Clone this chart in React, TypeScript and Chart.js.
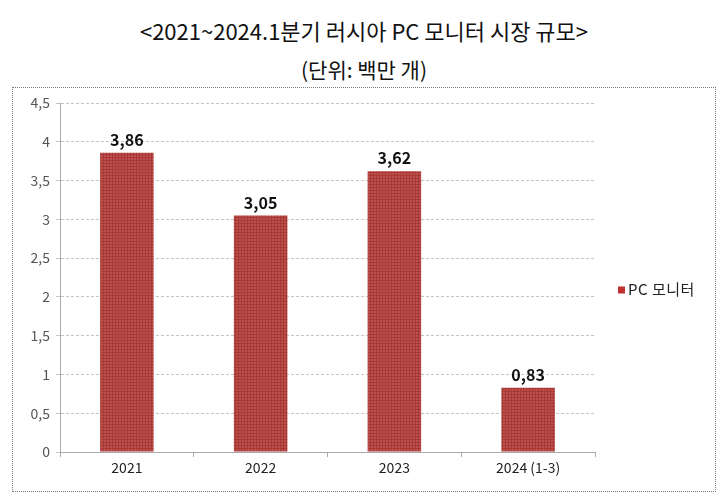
import React, { useEffect, useRef } from "react";
import { Chart, registerables } from "chart.js";

Chart.register(...registerables);

const categories = ["2021", "2022", "2023", "2024 (1-3)"];
const monitorValues = [3.86, 3.05, 3.62, 0.83];
const seriesName = "PC 모니터";
const titleText = "<2021~2024.1분기 러시아 PC 모니터 시장 규모>";
const subtitleText = "(단위: 백만 개)";
const yMin = 0;
const yMax = 4.5;
const yStep = 0.5;

const FONT = "'Noto Sans CJK KR', 'Noto Sans', sans-serif";
const fmt = (v: number) => String(v).replace(".", ",");

function makePattern(): CanvasPattern | string {
  const c = document.createElement("canvas");
  c.width = 3;
  c.height = 3;
  const ctx = c.getContext("2d");
  if (!ctx) return "#b3413e";
  ctx.fillStyle = "#bd504c";
  ctx.fillRect(0, 0, 3, 3);
  ctx.fillStyle = "#a63835";
  ctx.fillRect(0, 0, 3, 1);
  ctx.fillRect(0, 0, 1, 3);
  const p = ctx.createPattern(c, "repeat");
  return p || "#b3413e";
}

const labelPlugin = {
  id: "valueLabels",
  afterDatasetsDraw(chart: any) {
    const ctx = chart.ctx;
    const meta = chart.getDatasetMeta(0);
    ctx.save();
    ctx.font = `bold 16px ${FONT}`;
    ctx.fillStyle = "#111";
    ctx.textAlign = "center";
    ctx.textBaseline = "bottom";
    meta.data.forEach((bar: any, i: number) => {
      ctx.fillText(fmt(chart.data.datasets[0].data[i]), bar.x, bar.y - 5);
    });
    ctx.restore();
  },
};

const legendPlugin = {
  id: "sideLegend",
  afterDraw(chart: any) {
    const ctx = chart.ctx;
    const area = chart.chartArea;
    const ds = chart.data.datasets[0];
    const x = area.right + 23;
    const y = chart.height / 2;
    ctx.save();
    ctx.fillStyle = "#c0312f";
    ctx.fillRect(x, y - 3, 7, 7);
    ctx.font = `15px ${FONT}`;
    (ctx as any).letterSpacing = "0.5px";
    ctx.fillStyle = "#222";
    ctx.textAlign = "left";
    ctx.textBaseline = "middle";
    ctx.fillText(ds.label, x + 10, y);
    ctx.restore();
  },
};

export default function App() {
  const ref = useRef<HTMLCanvasElement>(null);

  useEffect(() => {
    if (!ref.current) return;
    const chart = new Chart(ref.current, {
      type: "bar",
      data: {
        labels: categories,
        datasets: [
          {
            label: seriesName,
            data: monitorValues,
            backgroundColor: makePattern() as any,
            borderWidth: 0,
            barPercentage: 0.8,
            categoryPercentage: 0.5,
          },
        ],
      },
      options: {
        animation: false,
        responsive: false,
        maintainAspectRatio: false,
        layout: { padding: { top: 15, right: 120, left: 0, bottom: 0 } },
        plugins: {
          legend: { display: false },
          tooltip: { enabled: false },
          title: { display: false },
        },
        scales: {
          x: {
            offset: true,
            afterFit: (s: any) => {
              s.height = 39;
            },
            grid: {
              offset: true,
              drawOnChartArea: false,
              drawTicks: true,
              tickLength: 5,
              color: "#aaa",
            },
            border: { color: "#aaa", width: 1 },
            ticks: {
              color: "#222",
              font: { family: FONT, size: 14 },
              padding: 2,
            },
          },
          y: {
            min: yMin,
            max: yMax,
            afterFit: (s: any) => {
              s.width = 47;
            },
            grid: {
              color: "#c4c4c4",
              tickLength: 4,
            },
            border: { color: "#aaa", width: 1, dash: [3, 2] },
            ticks: {
              stepSize: yStep,
              color: "#555",
              font: { family: FONT, size: 14 },
              padding: 6,
              callback: (v: any) => fmt(Number(v)),
            },
          },
        },
      },
      plugins: [labelPlugin, legendPlugin],
    });
    return () => chart.destroy();
  }, []);

  return (
    <div
      style={{
        position: "fixed",
        left: 0,
        top: 0,
        width: 728,
        height: 501,
        background: "#fff",
        fontFamily: FONT,
      }}
    >
      <div
        style={{
          position: "absolute",
          left: 0,
          top: 14,
          width: 728,
          textAlign: "center",
          fontSize: 22,
          lineHeight: "32px",
          color: "#111",
        }}
      >
        {titleText}
      </div>
      <div
        style={{
          position: "absolute",
          left: 0,
          top: 54,
          width: 728,
          textAlign: "center",
          fontSize: 21,
          lineHeight: "30px",
          color: "#111",
        }}
      >
        {subtitleText}
      </div>
      <div
        style={{
          position: "absolute",
          left: 12,
          top: 87,
          width: 702,
          height: 403,
          border: "1px dotted #777",
        }}
      >
        <canvas ref={ref} width={702} height={403} style={{ display: "block" }} />
      </div>
    </div>
  );
}
